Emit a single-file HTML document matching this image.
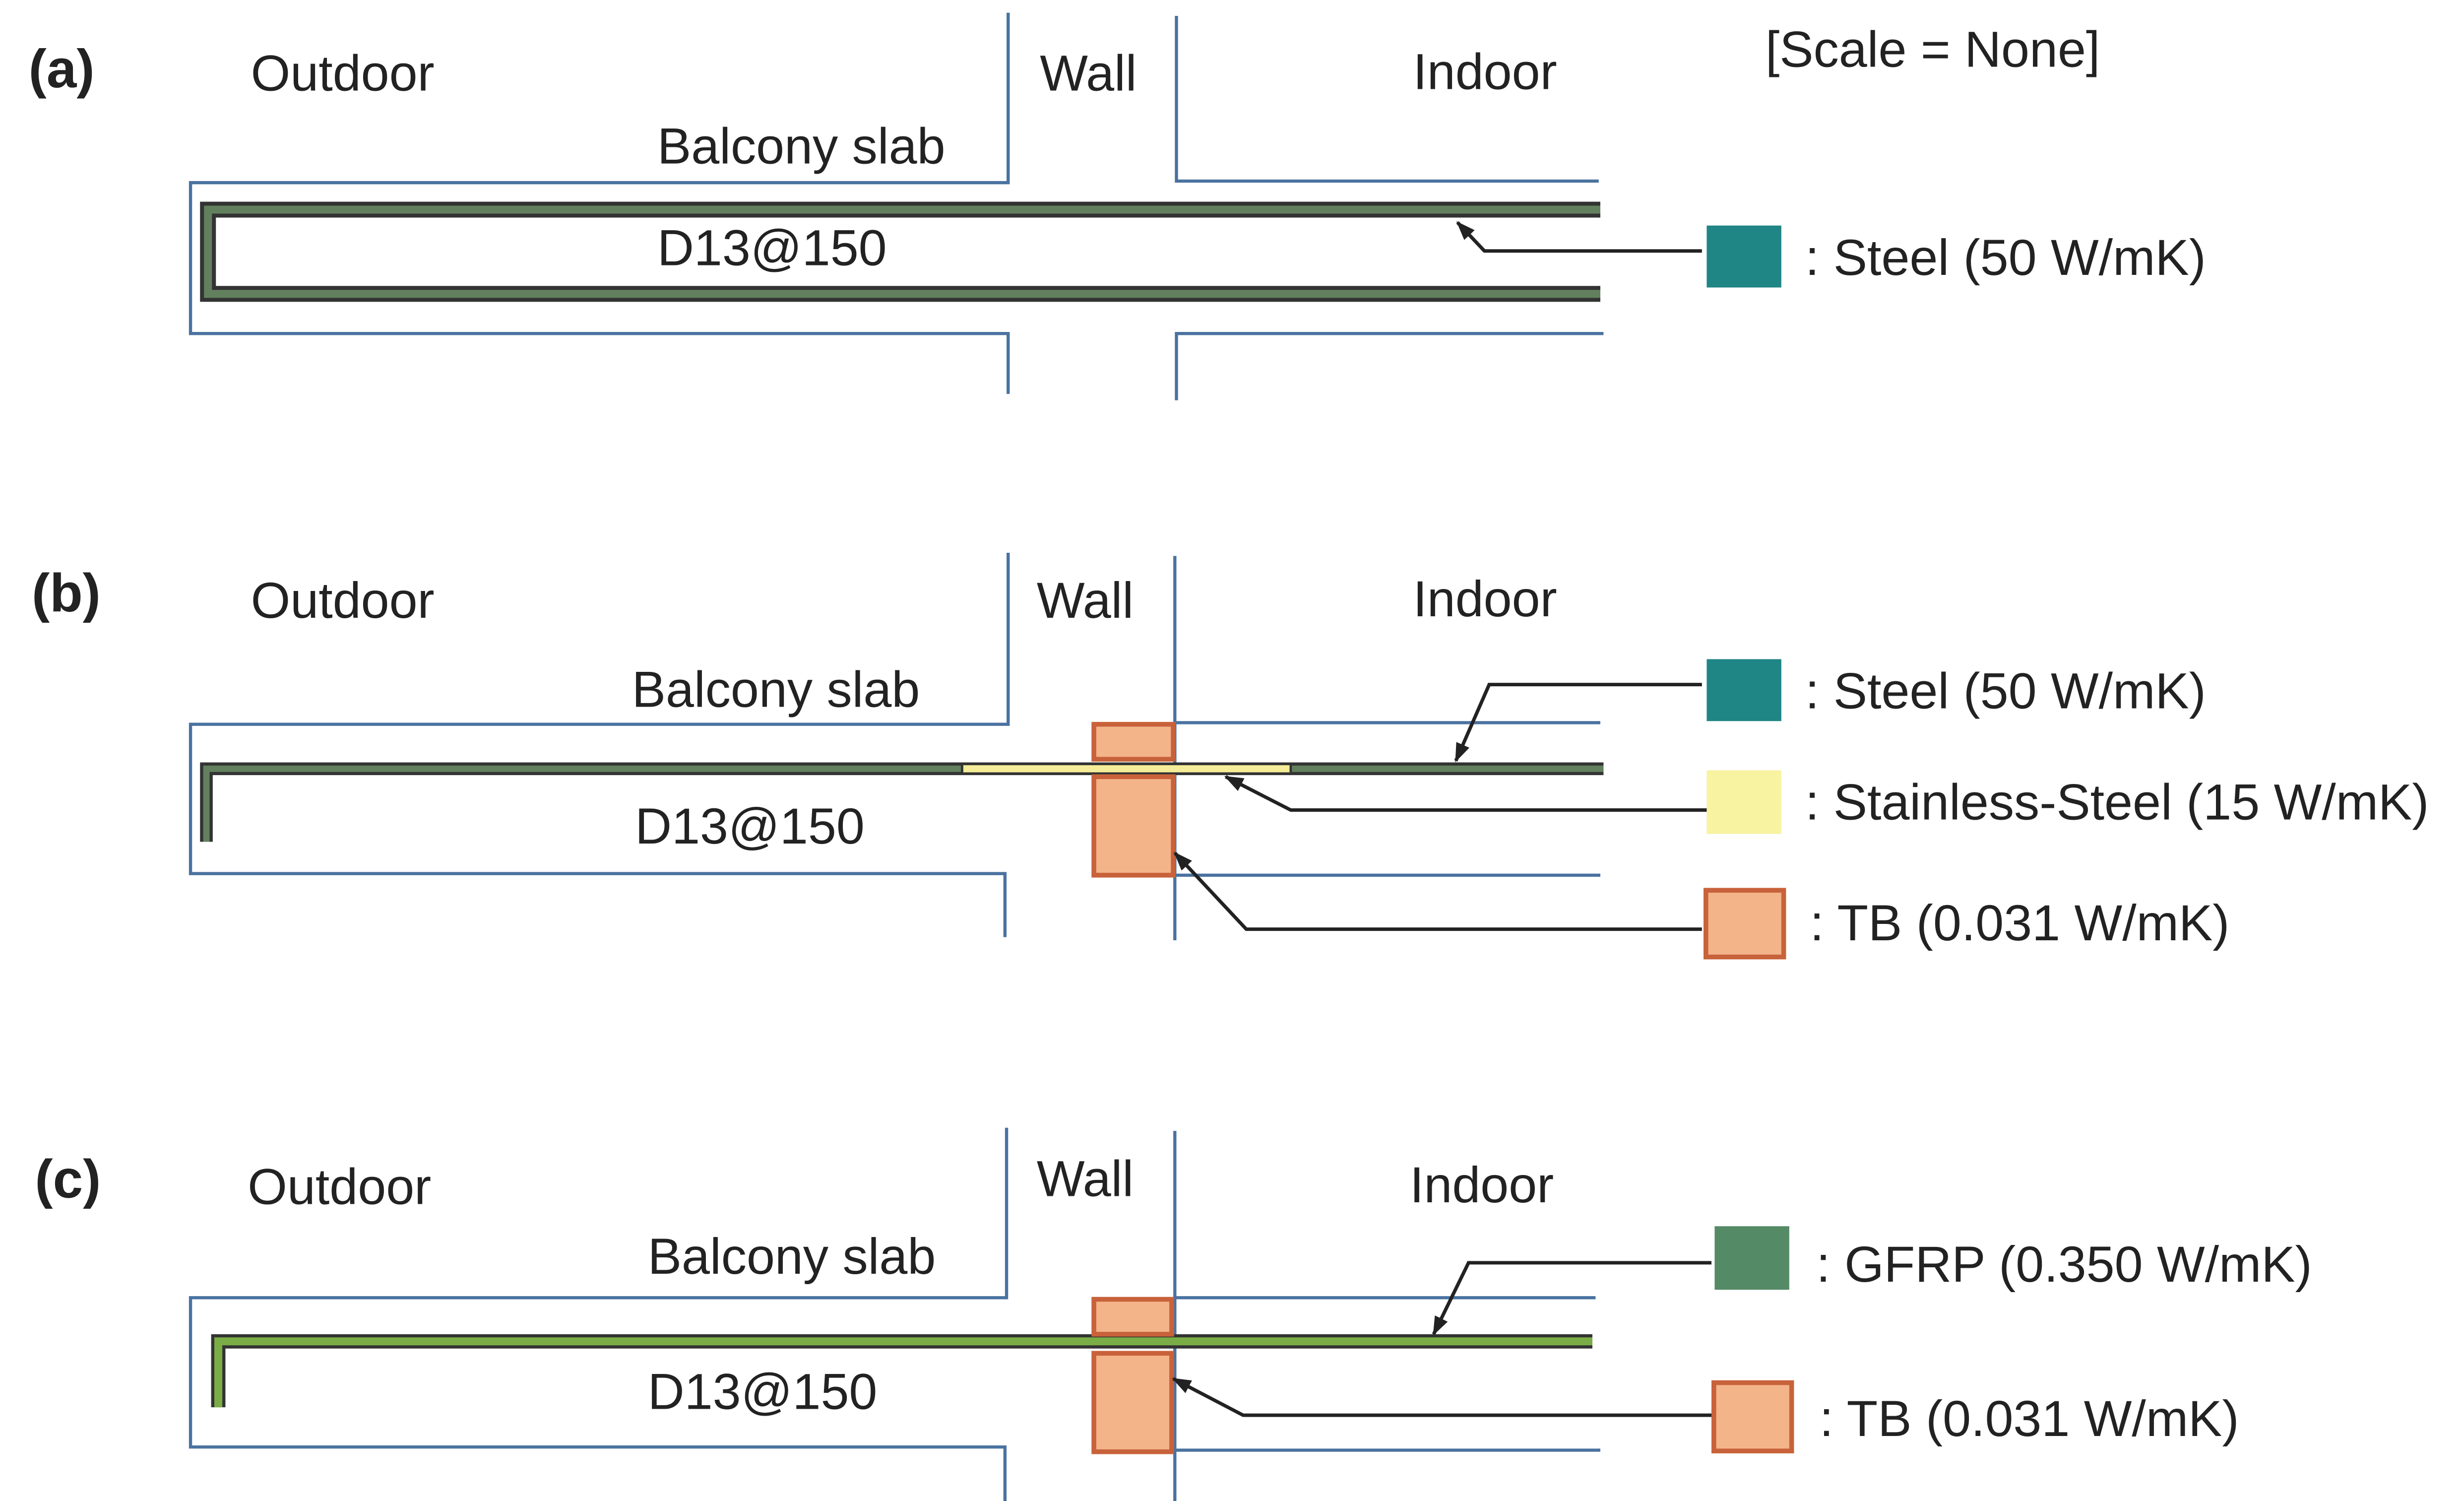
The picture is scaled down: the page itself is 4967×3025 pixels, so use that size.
<!DOCTYPE html>
<html><head><meta charset="utf-8"><style>
html,body{margin:0;padding:0;background:#fff;}
svg{display:block;}
text{font-family:"Liberation Sans",Arial,sans-serif;fill:#222;font-size:32px;}
</style></head><body>
<svg width="4967" height="3025" viewBox="0 0 1552 945" preserveAspectRatio="none" xmlns="http://www.w3.org/2000/svg">
<defs>
<marker id="ar" markerWidth="12" markerHeight="9" refX="11" refY="4.5" orient="auto" markerUnits="userSpaceOnUse">
<path d="M0,0 L12,4.5 L0,9 Z" fill="#222"/>
</marker>
</defs>
<rect width="1552" height="945" fill="#fff"/>
<g fill="none" stroke="#4a72a0" stroke-width="2">
<path d="M635,8 V115 H120 V210 H635 V248"/>
<path d="M741,10 V114 H1007"/>
<path d="M1010,210 H741 V252"/>
<path d="M635,348 V456 H120 V550 H633 V590"/>
<path d="M740,350 V592"/>
<path d="M740,455 H1008"/>
<path d="M740,551 H1008"/>
<path d="M634,710 V817 H120 V911 H633 V950"/>
<path d="M740,712 V955"/>
<path d="M740,817 H1005"/>
<path d="M740,913 H1008"/>
</g>
<path d="M1008,132 H131 V185 H1008" fill="none" stroke="#333" stroke-width="10"/>
<path d="M1008,132 H131 V185 H1008" fill="none" stroke="#62805e" stroke-width="5"/>
<path d="M1010,484 H130 V530" fill="none" stroke="#333" stroke-width="8"/>
<path d="M1010,484 H130 V530" fill="none" stroke="#62805e" stroke-width="4"/>
<rect x="606" y="481" width="207" height="6" fill="#f4ec98" stroke="#333" stroke-width="1.5"/>
<rect x="689" y="456" width="50" height="22" fill="#f3b48a" stroke="#c8623a" stroke-width="3"/>
<rect x="689" y="489" width="50" height="62" fill="#f3b48a" stroke="#c8623a" stroke-width="3"/>
<path d="M1003,844.5 H137.5 V886" fill="none" stroke="#333" stroke-width="9"/>
<path d="M1003,844.5 H137.5 V886" fill="none" stroke="#7aad45" stroke-width="5"/>
<rect x="689" y="818" width="49" height="22" fill="#f3b48a" stroke="#c8623a" stroke-width="3"/>
<rect x="689" y="852" width="49" height="62" fill="#f3b48a" stroke="#c8623a" stroke-width="3"/>
<g fill="none" stroke="#222" stroke-width="2.2">
<path d="M1072,158 H935 L918,140" marker-end="url(#ar)"/>
<path d="M1072,431 H938 L917,479" marker-end="url(#ar)"/>
<path d="M1080,510 H813 L772,489" marker-end="url(#ar)"/>
<path d="M1072,585 H785 L740,537" marker-end="url(#ar)"/>
<path d="M1078,795 H925 L903,840" marker-end="url(#ar)"/>
<path d="M1078,891 H783 L739,868" marker-end="url(#ar)"/>
</g>
<rect x="1075" y="142" width="47" height="39" fill="#1f8585"/>
<rect x="1075" y="415" width="47" height="39" fill="#1f8585"/>
<rect x="1075" y="485" width="47" height="40" fill="#f7f3a0"/>
<rect x="1074.5" y="560.5" width="49" height="42" fill="#f3b48a" stroke="#c8623a" stroke-width="3"/>
<rect x="1080" y="772" width="47" height="40" fill="#558a66"/>
<rect x="1079.5" y="870.5" width="49" height="43" fill="#f3b48a" stroke="#c8623a" stroke-width="3"/>
<text x="18" y="55" style="font-weight:bold;font-size:34px">(a)</text>
<text x="20" y="385" style="font-weight:bold;font-size:34px">(b)</text>
<text x="22" y="754" style="font-weight:bold;font-size:34px">(c)</text>
<text x="158" y="57">Outdoor</text>
<text x="655" y="57">Wall</text>
<text x="890" y="56">Indoor</text>
<text x="1112" y="42">[Scale = None]</text>
<text x="414" y="103">Balcony slab</text>
<text x="414" y="167">D13@150</text>
<text x="1137" y="173">: Steel (50 W/mK)</text>
<text x="158" y="389">Outdoor</text>
<text x="653" y="389">Wall</text>
<text x="890" y="388">Indoor</text>
<text x="398" y="445">Balcony slab</text>
<text x="400" y="531">D13@150</text>
<text x="1137" y="446">: Steel (50 W/mK)</text>
<text x="1137" y="516">: Stainless-Steel (15 W/mK)</text>
<text x="1140" y="592">: TB (0.031 W/mK)</text>
<text x="156" y="758">Outdoor</text>
<text x="653" y="753">Wall</text>
<text x="888" y="757">Indoor</text>
<text x="408" y="802">Balcony slab</text>
<text x="408" y="887">D13@150</text>
<text x="1144" y="807">: GFRP (0.350 W/mK)</text>
<text x="1146" y="904">: TB (0.031 W/mK)</text>
</svg>
</body></html>
